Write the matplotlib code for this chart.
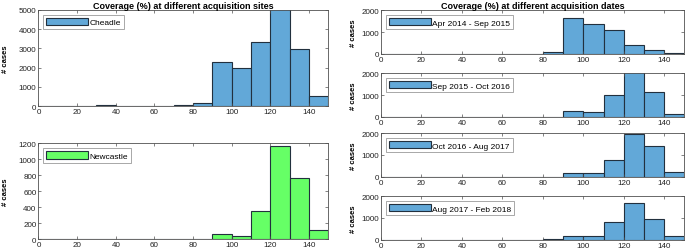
import matplotlib.pyplot as plt

plt.rcParams['font.family'] = ['Liberation Sans', 'DejaVu Sans']

bin_edges = [0, 10, 20, 30, 40, 50, 60, 70, 80, 90, 100, 110, 120, 130, 140]

site_labels = ["Cheadle", "Newcastle"]
cheadle = [10, 5, 5, 50, 10, 5, 20, 60, 170, 2270, 2000, 3350, 5100, 2970, 500]
newcastle = [5, 3, 3, 3, 3, 3, 3, 5, 5, 60, 35, 350, 1170, 760, 110]

date_labels = ["Apr 2014 - Sep 2015", "Sep 2015 - Oct 2016",
               "Oct 2016 - Aug 2017", "Aug 2017 - Feb 2018"]
apr14_sep15 = [0, 0, 0, 0, 0, 5, 5, 20, 100, 1650, 1370, 1090, 430, 170, 50]
sep15_oct16 = [0, 0, 0, 0, 0, 0, 5, 5, 20, 250, 220, 980, 2100, 1130, 150]
oct16_aug17 = [0, 0, 0, 0, 0, 0, 0, 10, 20, 200, 190, 760, 1950, 1420, 230]
aug17_feb18 = [0, 0, 0, 0, 0, 0, 0, 20, 40, 170, 200, 820, 1700, 960, 170]

blue = '#62a8d8'
green = '#66ff66'
edge = '#22303e'
frame = '#505050'


def draw_hist(ax, counts, label, color, ymax, yticks, ypad=3):
    ax.bar(bin_edges, counts, width=10, align='edge', color=color,
           edgecolor=edge, linewidth=0.8, label=label)
    ax.set_xlim(0, 150)
    ax.set_ylim(0, ymax)
    ax.set_xticks(range(0, 150, 20))
    ax.set_yticks(yticks)
    ax.tick_params(direction='in', length=2.5, width=0.5, labelsize=5.8,
                   top=True, right=True, colors=frame, labelcolor='#222222',
                   pad=1.5)
    for s in ax.spines.values():
        s.set_color(frame)
        s.set_linewidth(0.6)
    ax.set_ylabel('# cases', fontsize=5.5, fontweight='bold', labelpad=ypad)
    leg = ax.legend(loc='upper left', fontsize=6, handlelength=5.0,
                    handleheight=1.0, fancybox=False, borderpad=0.35,
                    handletextpad=0.2, borderaxespad=0.6)
    leg.get_frame().set_edgecolor('#808080')
    leg.get_frame().set_linewidth(0.6)


fig = plt.figure(figsize=(6.85, 2.51), dpi=100)

ax1 = fig.add_axes([0.0562, 0.5737, 0.423, 0.3825])
draw_hist(ax1, cheadle, site_labels[0], blue, 5000, range(0, 5001, 1000),
          ypad=7)
ax1.set_title('Coverage (%) at different acquisition sites', fontsize=6.5,
              fontweight='bold', pad=1.5)

ax2 = fig.add_axes([0.0562, 0.0438, 0.423, 0.381])
draw_hist(ax2, newcastle, site_labels[1], green, 1200, range(0, 1201, 200),
          ypad=7)

date_series = [apr14_sep15, sep15_oct16, oct16_aug17, aug17_feb18]
bottoms = [0.781, 0.530, 0.291, 0.040]
for i, (counts, label) in enumerate(zip(date_series, date_labels)):
    ax = fig.add_axes([0.5562, bottoms[i], 0.443, 0.175])
    draw_hist(ax, counts, label, blue, 2000, [0, 1000, 2000])
    if i == 0:
        ax.set_title('Coverage (%) at different acquisition dates',
                     fontsize=6.5, fontweight='bold', pad=1.5)

fig.savefig('out.png', dpi=100)
